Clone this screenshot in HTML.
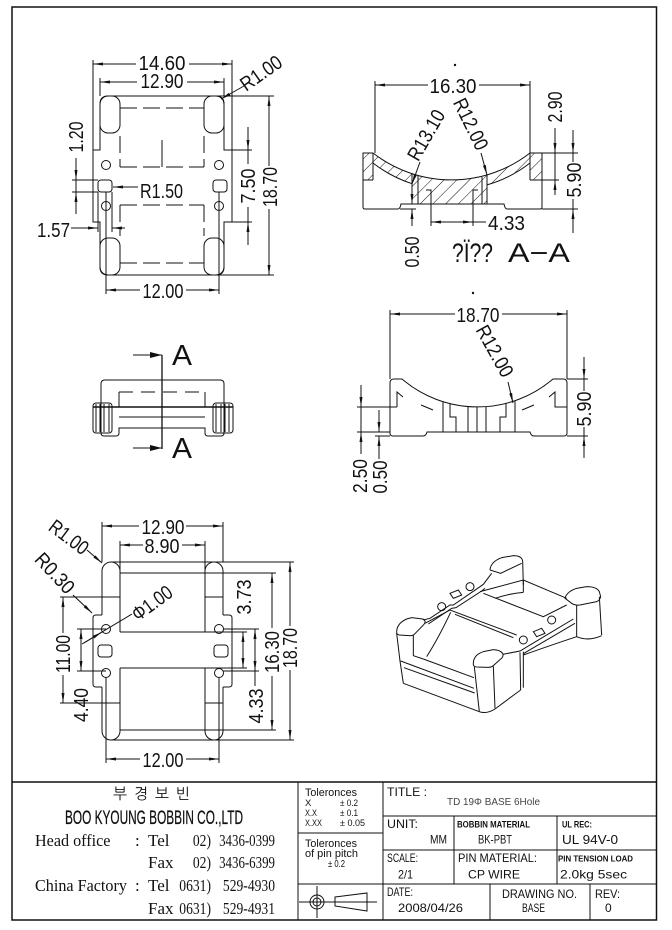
<!DOCTYPE html>
<html><head><meta charset="utf-8"><style>
html,body{margin:0;padding:0;background:#fff;}
svg{display:block}
text{font-family:"Liberation Sans",sans-serif;fill:#111;stroke:none}
.d{font-size:20px}
.s{font-family:"Liberation Serif",serif;font-size:17px;font-weight:normal}
.t{font-size:12px}
</style></head><body>
<svg width="672" height="930" viewBox="0 0 672 930" xmlns="http://www.w3.org/2000/svg">
<defs>
<marker id="a" markerUnits="userSpaceOnUse" markerWidth="10" markerHeight="4" refX="10" refY="2" orient="auto-start-reverse" viewBox="0 0 10 4"><path d="M0,0.5L10,2L0,3.5z" fill="#111"/></marker>
<marker id="b" markerUnits="userSpaceOnUse" markerWidth="12" markerHeight="6" refX="12" refY="3" orient="auto-start-reverse" viewBox="0 0 12 6"><path d="M0,0L12,3L0,6z" fill="#111"/></marker>
<pattern id="h" patternUnits="userSpaceOnUse" width="9" height="9" patternTransform="rotate(45)"><line x1="0" y1="0" x2="0" y2="9" stroke="#111" stroke-width="1"/></pattern>
</defs>
<rect width="672" height="930" fill="#fff"/>
<g fill="none" stroke="#111" stroke-width="1">

<!-- border -->
<rect x="12" y="7" width="644.5" height="913" stroke-width="1.5"/>

<!-- ============ TOP VIEW ============ -->
<path d="M100,104 Q100,96 108,96 L216,96 Q224,96 224,104 L224,150 L232,150 L232,222 L224,222 L224,267 Q224,275 216,275 L108,275 Q100,275 100,267 L100,222 L93,222 L93,150 L100,150 Z"/>
<rect x="100" y="96" width="20" height="37" rx="8"/>
<rect x="204" y="96" width="20" height="37" rx="8"/>
<rect x="100" y="238" width="20" height="37" rx="8"/>
<rect x="204" y="238" width="20" height="37" rx="8"/>
<g stroke-dasharray="17,6">
<line x1="120" y1="108" x2="204" y2="108"/>
<line x1="120" y1="136" x2="120" y2="167"/>
<line x1="204" y1="136" x2="204" y2="167"/>
<line x1="120" y1="167" x2="204" y2="167"/>
<line x1="120" y1="205" x2="204" y2="205"/>
<line x1="120" y1="205" x2="120" y2="236"/>
<line x1="204" y1="205" x2="204" y2="236"/>
<line x1="120" y1="263" x2="204" y2="263"/>
</g>
<line x1="162" y1="140" x2="162" y2="167"/>
<circle cx="106" cy="165" r="4.5"/><circle cx="219" cy="165" r="4.5"/>
<circle cx="106" cy="206" r="4.5"/><circle cx="219" cy="206" r="4.5"/>
<rect x="98" y="180" width="14" height="12" rx="3"/>
<rect x="213" y="180" width="14" height="12" rx="3"/>
<!-- 14.60 -->
<line x1="93" y1="60" x2="93" y2="150"/><line x1="232" y1="60" x2="232" y2="150"/>
<line x1="136" y1="64" x2="93" y2="64" marker-end="url(#a)"/>
<line x1="189" y1="64" x2="232" y2="64" marker-end="url(#a)"/>
<!-- 12.90 -->
<line x1="100" y1="78" x2="100" y2="96"/><line x1="224" y1="78" x2="224" y2="96"/>
<line x1="137" y1="82" x2="100" y2="82" marker-end="url(#a)"/>
<line x1="187" y1="82" x2="224" y2="82" marker-end="url(#a)"/>
<!-- 18.70 -->
<line x1="216" y1="96" x2="274" y2="96"/><line x1="216" y1="275" x2="274" y2="275"/>
<line x1="269" y1="166" x2="269" y2="96" marker-end="url(#a)"/>
<line x1="269" y1="209" x2="269" y2="275" marker-end="url(#a)"/>
<!-- 7.50 -->
<line x1="232" y1="150" x2="252" y2="150"/><line x1="232" y1="222" x2="252" y2="222"/>
<line x1="248" y1="127" x2="248" y2="150" marker-end="url(#a)"/>
<line x1="248" y1="150" x2="248" y2="164"/>
<line x1="248" y1="207" x2="248" y2="222"/>
<line x1="248" y1="245" x2="248" y2="222" marker-end="url(#a)"/>
<!-- 1.20 -->
<line x1="72" y1="180" x2="98" y2="180"/><line x1="72" y1="192" x2="98" y2="192"/>
<line x1="76" y1="158" x2="76" y2="180" marker-end="url(#a)"/>
<line x1="76" y1="180" x2="76" y2="192"/>
<line x1="76" y1="214" x2="76" y2="192" marker-end="url(#a)"/>
<!-- 1.57 -->
<line x1="98" y1="192" x2="98" y2="232"/><line x1="112" y1="192" x2="112" y2="232"/>
<line x1="71" y1="228" x2="98" y2="228" marker-end="url(#a)"/>
<line x1="125" y1="228" x2="112" y2="228" marker-end="url(#a)"/>
<!-- R1.50 -->
<line x1="138" y1="187" x2="113" y2="187" marker-end="url(#a)"/>
<!-- 12.00 -->
<line x1="106" y1="192" x2="106" y2="294"/><line x1="219" y1="192" x2="219" y2="294"/>
<line x1="140" y1="290" x2="106" y2="290" marker-end="url(#a)"/>
<line x1="186" y1="290" x2="219" y2="290" marker-end="url(#a)"/>
<!-- R1.00 -->
<line x1="244" y1="86" x2="221" y2="99" marker-end="url(#a)"/>

<!-- ============ SECTION A-A ============ -->
<circle cx="455" cy="65" r="0.7" fill="#111"/>
<path d="M363,153 L373,153 A128,128 0 0 0 530,153 L542,153 L542,180 L530,180 L530,163 A128,128 0 0 1 487,184.9 L487,204 L412,204 L412,183.7 A128,128 0 0 1 373,163 L373,180 L363,180 Z" fill="url(#h)" stroke="none"/>
<path d="M373,153 L363,153 L363,207 Q363,209 365,209 L398,209 Q400,209 401,204 L504,204 Q505,209 507,209 L540,209 Q542,209 542,207 L542,153 L530,153"/>
<path d="M373,153 A128,128 0 0 0 530,153"/>
<path d="M373,163 A128,128 0 0 0 412,183.7"/>
<path d="M487,184.9 A128,128 0 0 0 530,163"/>
<line x1="373" y1="153" x2="373" y2="180"/><line x1="363" y1="180" x2="373" y2="180"/>
<line x1="530" y1="153" x2="530" y2="180"/><line x1="530" y1="180" x2="542" y2="180"/>
<line x1="412" y1="173.7" x2="412" y2="204"/><line x1="487" y1="174.9" x2="487" y2="204"/>
<line x1="418" y1="176" x2="418" y2="204"/><line x1="482" y1="177" x2="482" y2="204"/>
<polyline points="426,190 431,190 431,204"/><polyline points="478,190 473,190 473,204"/>
<!-- 16.30 -->
<line x1="375" y1="81" x2="375" y2="153"/><line x1="530" y1="81" x2="530" y2="153"/>
<line x1="428" y1="85" x2="375" y2="85" marker-end="url(#a)"/>
<line x1="479" y1="85" x2="530" y2="85" marker-end="url(#a)"/>
<!-- leaders -->
<line x1="420" y1="162" x2="412" y2="184" marker-end="url(#a)"/>
<line x1="481" y1="153" x2="487" y2="175" marker-end="url(#a)"/>
<!-- 0.50 -->
<line x1="400" y1="209" x2="416" y2="209"/>
<line x1="412" y1="188" x2="412" y2="204" marker-end="url(#a)"/>
<line x1="412" y1="226" x2="412" y2="209" marker-end="url(#a)"/>
<!-- 4.33 -->
<line x1="431" y1="204" x2="431" y2="226"/><line x1="473" y1="204" x2="473" y2="226"/>
<line x1="431" y1="222" x2="473" y2="222" marker-start="url(#a)" marker-end="url(#a)"/>
<line x1="473" y1="222" x2="486" y2="222"/>
<!-- 2.90 / 5.90 -->
<line x1="542" y1="153" x2="578" y2="153"/><line x1="542" y1="180" x2="559" y2="180"/>
<line x1="542" y1="209" x2="578" y2="209"/>
<line x1="555" y1="128" x2="555" y2="153" marker-end="url(#a)"/>
<line x1="555" y1="153" x2="555" y2="180"/>
<line x1="555" y1="195" x2="555" y2="180" marker-end="url(#a)"/>
<line x1="573" y1="130" x2="573" y2="153" marker-end="url(#a)"/>
<line x1="573" y1="153" x2="573" y2="162"/>
<line x1="573" y1="199" x2="573" y2="209"/>
<line x1="573" y1="233" x2="573" y2="209" marker-end="url(#a)"/>

<!-- ============ SIDE VIEW (A arrows) ============ -->
<line x1="133" y1="355" x2="162" y2="355" marker-end="url(#b)"/>
<line x1="133" y1="448" x2="162" y2="448" marker-end="url(#b)"/>
<line x1="162" y1="355" x2="162" y2="449" stroke-width="1.3"/>
<path d="M119,428 L119,433 Q119,436 116,436 L104,436 Q101,436 101,433 L101,384 Q101,380 105,380 L220,380 Q224,380 224,384 L224,433 Q224,436 221,436 L208,436 Q205,436 205,433 L205,428 Z"/>
<line x1="119" y1="392" x2="205" y2="392" stroke-dasharray="14,8"/>
<line x1="119" y1="392" x2="119" y2="407"/><line x1="205" y1="392" x2="205" y2="407"/>
<line x1="93" y1="407" x2="233" y2="407" stroke-width="1.4"/>
<line x1="119" y1="417" x2="205" y2="417"/>
<rect x="93" y="403" width="19" height="30" rx="3"/>
<rect x="213" y="403" width="20" height="30" rx="3"/>
<line x1="96" y1="404" x2="96" y2="432"/><line x1="100" y1="404" x2="100" y2="432"/><line x1="104" y1="404" x2="104" y2="432"/><line x1="109" y1="404" x2="109" y2="432"/>
<line x1="216" y1="404" x2="216" y2="432"/><line x1="221" y1="404" x2="221" y2="432"/><line x1="225" y1="404" x2="225" y2="432"/><line x1="229" y1="404" x2="229" y2="432"/>

<!-- ============ FRONT VIEW ============ -->
<circle cx="473" cy="293" r="0.7" fill="#111"/>
<path d="M390,383 Q390,379 394,379 L402,379 A116,116 0 0 0 553,379 L563,379 Q567,379 567,383 L567,433 Q567,436 564,436 L534,436 Q531,436 530,432 L427,432 Q426,436 423,436 L393,436 Q390,436 390,433 Z"/>
<polyline points="403,397 397,392 397,407"/>
<polyline points="549,397 555,392 555,407 567,407"/>
<line x1="421" y1="405" x2="433" y2="410"/><line x1="522" y1="410" x2="534" y2="405"/>
<line x1="443" y1="401.8" x2="443" y2="432"/><line x1="515" y1="400.8" x2="515" y2="432"/>
<polyline points="450,403.7 450,417 456,417 456,432"/>
<line x1="468" y1="406.6" x2="468" y2="432"/><line x1="477" y1="407" x2="477" y2="432"/><line x1="486" y1="406.8" x2="486" y2="432"/>
<polyline points="506,403.4 506,417 500,417 500,432"/>
<!-- 18.70 -->
<line x1="390" y1="310" x2="390" y2="379"/><line x1="567" y1="310" x2="567" y2="379"/>
<line x1="455" y1="314" x2="390" y2="314" marker-end="url(#a)"/>
<line x1="502" y1="314" x2="567" y2="314" marker-end="url(#a)"/>
<line x1="508" y1="382" x2="513" y2="403" marker-end="url(#a)"/>
<!-- 5.90 -->
<line x1="567" y1="379" x2="588" y2="379"/><line x1="567" y1="436" x2="588" y2="436"/>
<line x1="584" y1="357" x2="584" y2="379" marker-end="url(#a)"/>
<line x1="584" y1="379" x2="584" y2="391"/>
<line x1="584" y1="427" x2="584" y2="436"/>
<line x1="584" y1="458" x2="584" y2="436" marker-end="url(#a)"/>
<!-- 2.50 / 0.50 -->
<line x1="357" y1="407" x2="397" y2="407"/><line x1="357" y1="432" x2="390" y2="432"/><line x1="375" y1="436" x2="390" y2="436"/>
<line x1="361" y1="385" x2="361" y2="407" marker-end="url(#a)"/>
<line x1="361" y1="407" x2="361" y2="432"/>
<line x1="361" y1="454" x2="361" y2="432" marker-end="url(#a)"/>
<line x1="379" y1="410" x2="379" y2="432" marker-end="url(#a)"/>
<line x1="379" y1="459" x2="379" y2="436" marker-end="url(#a)"/>

<!-- ============ BOTTOM VIEW ============ -->
<path d="M102,597 L102,571 A9,9 0 0 1 120,571 L120,632"/>
<path d="M223,597 L223,571 A9,9 0 0 0 205,571 L205,632"/>
<line x1="111" y1="562" x2="294" y2="562"/>
<line x1="120" y1="573" x2="276" y2="573"/>
<line x1="60" y1="597" x2="120" y2="597"/><line x1="205" y1="597" x2="223" y2="597"/>
<line x1="102" y1="597" x2="102" y2="615"/><line x1="223" y1="597" x2="223" y2="615"/>
<path d="M102,615 L96,615 Q93,615 93,618 L93,684 Q93,687 96,687 L102,687"/>
<path d="M223,615 L229,615 Q232,615 232,618 L232,684 Q232,687 229,687 L223,687"/>
<line x1="120" y1="632" x2="247" y2="632"/>
<line x1="120" y1="668" x2="247" y2="668"/>
<line x1="120" y1="668" x2="120" y2="731"/><line x1="205" y1="668" x2="205" y2="731"/>
<line x1="102" y1="687" x2="102" y2="731"/><line x1="223" y1="687" x2="223" y2="731"/>
<path d="M102,731 A9,9 0 0 0 120,731"/><path d="M205,731 A9,9 0 0 0 223,731"/>
<line x1="60" y1="703" x2="120" y2="703"/><line x1="205" y1="703" x2="223" y2="703"/>
<line x1="120" y1="730" x2="276" y2="730"/>
<line x1="111" y1="740" x2="294" y2="740"/>
<circle cx="106" cy="629" r="4.5"/><circle cx="219" cy="629" r="4.5"/>
<circle cx="106" cy="673" r="4.5"/><circle cx="219" cy="673" r="4.5"/>
<rect x="98" y="645" width="14" height="12" rx="3"/>
<rect x="214" y="645" width="14" height="12" rx="3"/>
<!-- 12.90 / 8.90 -->
<line x1="102" y1="522" x2="102" y2="562"/><line x1="223" y1="522" x2="223" y2="562"/>
<line x1="139" y1="526" x2="102" y2="526" marker-end="url(#a)"/>
<line x1="186" y1="526" x2="223" y2="526" marker-end="url(#a)"/>
<line x1="120" y1="541" x2="120" y2="573"/><line x1="205" y1="541" x2="205" y2="573"/>
<line x1="143" y1="545" x2="120" y2="545" marker-end="url(#a)"/>
<line x1="182" y1="545" x2="205" y2="545" marker-end="url(#a)"/>
<!-- 11.00 -->
<line x1="63" y1="633" x2="63" y2="597" marker-end="url(#a)"/>
<line x1="63" y1="675" x2="63" y2="703" marker-end="url(#a)"/>
<!-- 4.40 -->
<line x1="77" y1="629" x2="106" y2="629"/><line x1="77" y1="671" x2="106" y2="671"/>
<line x1="81" y1="629" x2="81" y2="671" marker-start="url(#a)" marker-end="url(#a)"/>
<!-- phi leader -->
<line x1="82" y1="644" x2="132" y2="614"/>
<line x1="84" y1="643" x2="102" y2="632" marker-end="url(#a)"/>
<!-- R0.30 / R1.00 -->
<line x1="73" y1="595" x2="92" y2="613" marker-end="url(#a)"/>
<line x1="87" y1="550" x2="102" y2="563" marker-end="url(#a)"/>
<!-- 3.73 / 4.33 -->
<line x1="243" y1="632" x2="243" y2="668" marker-start="url(#a)" marker-end="url(#a)"/>
<line x1="223" y1="629" x2="259" y2="629"/><line x1="223" y1="671" x2="259" y2="671"/>
<line x1="255" y1="629" x2="255" y2="671" marker-start="url(#a)" marker-end="url(#a)"/>
<line x1="255" y1="671" x2="255" y2="686"/>
<!-- 16.30 / 18.70 -->
<line x1="272" y1="628" x2="272" y2="573" marker-end="url(#a)"/>
<line x1="272" y1="676" x2="272" y2="730" marker-end="url(#a)"/>
<line x1="290" y1="626" x2="290" y2="562" marker-end="url(#a)"/>
<line x1="290" y1="670" x2="290" y2="740" marker-end="url(#a)"/>
<!-- 12.00 -->
<line x1="106" y1="677" x2="106" y2="763"/><line x1="219" y1="677" x2="219" y2="763"/>
<line x1="140" y1="759" x2="106" y2="759" marker-end="url(#a)"/>
<line x1="186" y1="759" x2="219" y2="759" marker-end="url(#a)"/>

<!-- ============ 3D VIEW ============ -->
<g transform="translate(380,555) scale(0.33333)" stroke-width="3">
<path d="M50,232 Q50,205 80,192 L95,188 L128,192 Q140,197 132,208 L103,238 Q98,243 88,242 L58,240 Q50,238 50,232 Z"/>
<path d="M50,235 L60,318 L70,385"/>
<path d="M100,240 L100,302 L130,312"/>
<path d="M62,318 L282,400"/>
<path d="M72,338 L284,414"/>
<path d="M70,385 L298,470"/>
<path d="M135,205 L210,165 L410,240"/>
<path d="M225,178 L400,248"/>
<path d="M140,305 Q175,250 212,172"/>
<path d="M130,312 L282,368"/>
<path d="M280,330 Q278,300 310,290 L340,284 Q360,285 368,295 Q372,305 362,312 L340,332 Q335,337 325,337 L290,336 Q282,335 280,330 Z"/>
<path d="M283,335 L298,470"/>
<path d="M340,334 L345,460"/>
<path d="M298,470 Q320,478 345,462"/>
<path d="M345,462 Q385,432 422,405"/>
<path d="M420,292 L422,405"/>
<path d="M430,290 L430,398"/>
<path d="M430,300 Q520,268 590,245"/>
<path d="M368,298 L420,288 L580,192"/>
<path d="M430,296 L585,205"/>
<path d="M130,195 L150,190 L210,150 L220,150 L300,95 L310,88 L335,55"/>
<path d="M145,207 L215,160 L228,158 L305,108 L315,100"/>
<circle cx="185" cy="155" r="12"/><circle cx="270" cy="95" r="12"/>
<circle cx="430" cy="255" r="12"/><circle cx="515" cy="195" r="12"/>
<path d="M210,115 L235,105 L245,120 L220,130 Z"/>
<path d="M460,230 L485,220 L495,235 L470,245 Z"/>
<path d="M330,45 Q332,20 365,8 L400,2 Q425,2 428,18 L430,90"/>
<path d="M330,45 L362,55 L425,25"/>
<path d="M300,110 L430,75 L560,130"/>
<path d="M310,115 L490,185 L560,150"/>
<path d="M345,130 Q390,115 430,112"/>
<path d="M430,75 L430,112"/>
<path d="M555,130 Q560,110 590,100 L620,95 Q650,95 658,110 L662,125 Q660,135 650,140 L600,150 Q585,152 575,145 Z"/>
<path d="M658,125 L665,240"/>
<path d="M590,150 L590,245"/>
<path d="M590,245 Q625,260 665,242"/>
</g>

<!-- ============ TITLE BLOCK ============ -->
<line x1="12" y1="782" x2="656.5" y2="782" stroke-width="1.5"/>
<line x1="298" y1="782" x2="298" y2="920"/>
<line x1="383" y1="782" x2="383" y2="920"/>
<line x1="298" y1="833" x2="383" y2="833"/>
<line x1="298" y1="884" x2="656" y2="884"/>
<line x1="383" y1="816" x2="656" y2="816"/>
<line x1="383" y1="850" x2="656" y2="850"/>
<line x1="454" y1="816" x2="454" y2="884"/>
<line x1="557" y1="816" x2="557" y2="884"/>
<line x1="490" y1="884" x2="490" y2="920"/>
<line x1="590" y1="884" x2="590" y2="920"/>
<circle cx="317" cy="902" r="7"/><circle cx="317" cy="902" r="4"/>
<line x1="299" y1="902" x2="377" y2="902"/>
<line x1="317" y1="886" x2="317" y2="918"/>
<path d="M335,897 L367,893 L367,911 L335,906 Z"/>
</g>

<!-- ============ TEXT ============ -->
<g class="d">
<text class="d" x="162" y="70" text-anchor="middle" textLength="47" lengthAdjust="spacingAndGlyphs">14.60</text>
<text class="d" x="162" y="88" text-anchor="middle" textLength="43" lengthAdjust="spacingAndGlyphs">12.90</text>
<text class="d" x="140" y="198" textLength="43" lengthAdjust="spacingAndGlyphs">R1.50</text>
<text class="d" x="37" y="237" textLength="33" lengthAdjust="spacingAndGlyphs">1.57</text>
<text class="d" x="163" y="298" text-anchor="middle" textLength="41" lengthAdjust="spacingAndGlyphs">12.00</text>
<text class="d" transform="translate(76,137) rotate(-90)" x="0" y="7" text-anchor="middle" textLength="31" lengthAdjust="spacingAndGlyphs">1.20</text>
<text class="d" transform="translate(248,186) rotate(-90)" x="0" y="7" text-anchor="middle" textLength="35" lengthAdjust="spacingAndGlyphs">7.50</text>
<text class="d" transform="translate(270,187) rotate(-90)" x="0" y="7" text-anchor="middle" textLength="40" lengthAdjust="spacingAndGlyphs">18.70</text>
<text class="d" transform="translate(261,73) rotate(-35)" x="0" y="7" text-anchor="middle" textLength="46" lengthAdjust="spacingAndGlyphs">R1.00</text>

<text class="d" x="453" y="93" text-anchor="middle" textLength="47" lengthAdjust="spacingAndGlyphs">16.30</text>
<text class="d" transform="translate(426,135) rotate(-60)" x="0" y="7" text-anchor="middle" textLength="55" lengthAdjust="spacingAndGlyphs">R13.10</text>
<text class="d" transform="translate(471,124) rotate(64)" x="0" y="7" text-anchor="middle" textLength="55" lengthAdjust="spacingAndGlyphs">R12.00</text>
<text class="d" x="488" y="230" textLength="37" lengthAdjust="spacingAndGlyphs">4.33</text>
<text class="d" transform="translate(412,252) rotate(-90)" x="0" y="7" text-anchor="middle" textLength="31" lengthAdjust="spacingAndGlyphs">0.50</text>
<text class="d" transform="translate(555,107) rotate(-90)" x="0" y="7" text-anchor="middle" textLength="31" lengthAdjust="spacingAndGlyphs">2.90</text>
<text class="d" transform="translate(574,180) rotate(-90)" x="0" y="7" text-anchor="middle" textLength="35" lengthAdjust="spacingAndGlyphs">5.90</text>
<text x="452" y="262" style="font-size:27px" textLength="41" lengthAdjust="spacingAndGlyphs">?Ï??</text>
<text x="508" y="262" style="font-size:27px" textLength="62" lengthAdjust="spacingAndGlyphs">A−A</text>

<text x="172" y="365" style="font-size:29px" textLength="20" lengthAdjust="spacingAndGlyphs">A</text>
<text x="172" y="458" style="font-size:29px" textLength="20" lengthAdjust="spacingAndGlyphs">A</text>

<text class="d" x="478" y="322" text-anchor="middle" textLength="43" lengthAdjust="spacingAndGlyphs">18.70</text>
<text class="d" transform="translate(495,351) rotate(61)" x="0" y="7" text-anchor="middle" textLength="56" lengthAdjust="spacingAndGlyphs">R12.00</text>
<text class="d" transform="translate(584,409) rotate(-90)" x="0" y="7" text-anchor="middle" textLength="35" lengthAdjust="spacingAndGlyphs">5.90</text>
<text class="d" transform="translate(360,476) rotate(-90)" x="0" y="7" text-anchor="middle" textLength="34" lengthAdjust="spacingAndGlyphs">2.50</text>
<text class="d" transform="translate(380,477) rotate(-90)" x="0" y="7" text-anchor="middle" textLength="33" lengthAdjust="spacingAndGlyphs">0.50</text>

<text class="d" x="163" y="534" text-anchor="middle" textLength="43" lengthAdjust="spacingAndGlyphs">12.90</text>
<text class="d" x="162" y="553" text-anchor="middle" textLength="35" lengthAdjust="spacingAndGlyphs">8.90</text>
<text class="d" x="163" y="767" text-anchor="middle" textLength="41" lengthAdjust="spacingAndGlyphs">12.00</text>
<text class="d" transform="translate(69,537) rotate(37)" x="0" y="7" text-anchor="middle" textLength="44" lengthAdjust="spacingAndGlyphs">R1.00</text>
<text class="d" transform="translate(55,573) rotate(47)" x="0" y="7" text-anchor="middle" textLength="48" lengthAdjust="spacingAndGlyphs">R0.30</text>
<text class="d" transform="translate(152,603) rotate(-36)" x="0" y="7" text-anchor="middle" textLength="45" lengthAdjust="spacingAndGlyphs">Φ1.00</text>
<text class="d" transform="translate(63,654) rotate(-90)" x="0" y="7" text-anchor="middle" textLength="38" lengthAdjust="spacingAndGlyphs">11.00</text>
<text class="d" transform="translate(81,705) rotate(-90)" x="0" y="7" text-anchor="middle" textLength="34" lengthAdjust="spacingAndGlyphs">4.40</text>
<text class="d" transform="translate(244,597) rotate(-90)" x="0" y="7" text-anchor="middle" textLength="35" lengthAdjust="spacingAndGlyphs">3.73</text>
<text class="d" transform="translate(256,706) rotate(-90)" x="0" y="7" text-anchor="middle" textLength="35" lengthAdjust="spacingAndGlyphs">4.33</text>
<text class="d" transform="translate(272,652) rotate(-90)" x="0" y="7" text-anchor="middle" textLength="42" lengthAdjust="spacingAndGlyphs">16.30</text>
<text class="d" transform="translate(290,648) rotate(-90)" x="0" y="7" text-anchor="middle" textLength="40" lengthAdjust="spacingAndGlyphs">18.70</text>
</g>

<!-- title block left -->
<text x="113" y="799" style="font-family:'Liberation Sans','NanumGothic','Noto Sans CJK KR',sans-serif;font-size:15px" textLength="77" lengthAdjust="spacing">부 경 보 빈</text>
<text x="65" y="824" style="font-size:19px;stroke:#111;stroke-width:0.25" textLength="178" lengthAdjust="spacingAndGlyphs">BOO KYOUNG BOBBIN CO.,LTD</text>

<text class="s" transform="translate(35,846) scale(0.95,1)">Head office</text>
<text class="s" x="135" y="846">:</text>
<text class="s" x="148" y="846">Tel</text>
<text class="s" transform="translate(211,846) scale(0.8,1)" text-anchor="end">02)</text>
<text class="s" transform="translate(275,846) scale(0.76,1)" text-anchor="end">3436-0399</text>

<text class="s" x="148" y="868">Fax</text>
<text class="s" transform="translate(211,868) scale(0.8,1)" text-anchor="end">02)</text>
<text class="s" transform="translate(275,868) scale(0.76,1)" text-anchor="end">3436-6399</text>

<text class="s" transform="translate(35,891) scale(0.95,1)">China Factory</text>
<text class="s" x="135" y="891">:</text>
<text class="s" x="148" y="891">Tel</text>
<text class="s" transform="translate(211,891) scale(0.8,1)" text-anchor="end">0631)</text>
<text class="s" transform="translate(275,891) scale(0.8,1)" text-anchor="end">529-4930</text>

<text class="s" x="148" y="914">Fax</text>
<text class="s" transform="translate(211,914) scale(0.8,1)" text-anchor="end">0631)</text>
<text class="s" transform="translate(275,914) scale(0.8,1)" text-anchor="end">529-4931</text>

<!-- tolerance column -->
<text x="305" y="796" style="font-size:11px" textLength="52" lengthAdjust="spacingAndGlyphs">Toleronces</text>
<text x="305" y="806" style="font-size:9.5px">X</text>
<text x="340" y="806" style="font-size:9.5px" textLength="18" lengthAdjust="spacingAndGlyphs">± 0.2</text>
<text x="305" y="816" style="font-size:9.5px" textLength="12" lengthAdjust="spacingAndGlyphs">X.X</text>
<text x="340" y="816" style="font-size:9.5px" textLength="18" lengthAdjust="spacingAndGlyphs">± 0.1</text>
<text x="305" y="826" style="font-size:9.5px" textLength="17" lengthAdjust="spacingAndGlyphs">X.XX</text>
<text x="340" y="826" style="font-size:9.5px" textLength="25" lengthAdjust="spacingAndGlyphs">± 0.05</text>
<text x="305" y="847" style="font-size:11px" textLength="52" lengthAdjust="spacingAndGlyphs">Toleronces</text>
<text x="305" y="857" style="font-size:11px" textLength="53" lengthAdjust="spacingAndGlyphs">of pin pitch</text>
<text x="328" y="867" style="font-size:10px" textLength="17" lengthAdjust="spacingAndGlyphs">± 0.2</text>

<!-- right block -->
<text class="t" x="387" y="796" textLength="40" lengthAdjust="spacingAndGlyphs">TITLE :</text>
<text x="447" y="805" style="font-size:10.5px;fill:#444" textLength="93" lengthAdjust="spacingAndGlyphs">TD 19Φ BASE 6Hole</text>
<text class="t" x="387" y="828" textLength="31" lengthAdjust="spacingAndGlyphs">UNIT:</text>
<text class="t" x="430" y="843.5" textLength="17" lengthAdjust="spacingAndGlyphs">MM</text>
<text x="457" y="827.5" style="font-size:9.5px;font-weight:bold" textLength="73" lengthAdjust="spacingAndGlyphs">BOBBIN MATERIAL</text>
<text class="t" x="478" y="843.5" textLength="34" lengthAdjust="spacingAndGlyphs">BK-PBT</text>
<text x="562" y="827.5" style="font-size:9.5px;font-weight:bold" textLength="30" lengthAdjust="spacingAndGlyphs">UL REC:</text>
<text x="562" y="844" style="font-size:13px" textLength="56" lengthAdjust="spacingAndGlyphs">UL 94V-0</text>
<text class="t" x="387" y="862" textLength="31" lengthAdjust="spacingAndGlyphs">SCALE:</text>
<text class="t" x="398" y="878.5" textLength="15" lengthAdjust="spacingAndGlyphs">2/1</text>
<text class="t" x="458" y="862" textLength="79" lengthAdjust="spacingAndGlyphs">PIN MATERIAL:</text>
<text class="t" x="468" y="878.5" textLength="52" lengthAdjust="spacingAndGlyphs">CP WIRE</text>
<text x="558" y="861.5" style="font-size:8.5px;font-weight:bold" textLength="75" lengthAdjust="spacingAndGlyphs">PIN TENSION LOAD</text>
<text class="t" x="560" y="878.5" textLength="67" lengthAdjust="spacingAndGlyphs">2.0kg 5sec</text>
<text class="t" x="387" y="896" textLength="26" lengthAdjust="spacingAndGlyphs">DATE:</text>
<text class="t" x="398" y="912" textLength="65" lengthAdjust="spacingAndGlyphs">2008/04/26</text>
<text class="t" x="502" y="898" textLength="75" lengthAdjust="spacingAndGlyphs">DRAWING NO.</text>
<text class="t" x="522" y="912" textLength="23" lengthAdjust="spacingAndGlyphs">BASE</text>
<text class="t" x="595" y="898" textLength="25" lengthAdjust="spacingAndGlyphs">REV:</text>
<text class="t" x="605" y="912">0</text>
</svg>
</body></html>
